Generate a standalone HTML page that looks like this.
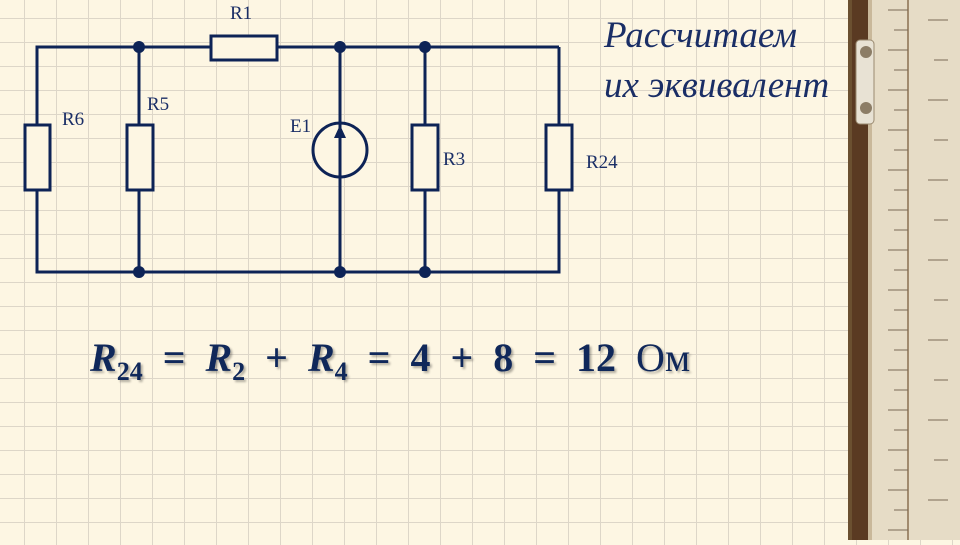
<!DOCTYPE html>
<html><head><meta charset="utf-8"><style>
html,body{margin:0;padding:0}
body{width:960px;height:540px;overflow:hidden;position:relative;
background-color:#fdf6e3;
background-image:linear-gradient(to right,#ddd6c8 1px,transparent 1px),linear-gradient(to bottom,#ddd6c8 1px,transparent 1px);
background-size:32px 24px;background-position:24px 18px;}
.ruler{position:absolute;left:848px;top:0;width:112px;height:540px;}
.f{position:absolute;left:90px;top:334px;font-family:"Liberation Serif",serif;font-size:40px;color:#10285a;font-weight:bold;white-space:nowrap;text-shadow:2px 2px 2px rgba(0,0,0,.3);word-spacing:10px}
.f i{font-style:italic}
.f sub{font-size:26px;vertical-align:-9px}
.t{position:absolute;left:604px;font-family:"Liberation Serif",serif;font-style:italic;font-size:37px;color:#1a2e66;white-space:nowrap}
</style></head><body>
<div class="ruler">
<svg width="112" height="540">
<rect x="0" y="0" width="112" height="540" fill="#ddd3bd"/>
<rect x="0" y="0" width="4" height="540" fill="#6b5030"/>
<rect x="4" y="0" width="16" height="540" fill="#5a3a22"/>
<rect x="20" y="0" width="4" height="540" fill="#c9b89a"/>
<rect x="24" y="0" width="88" height="540" fill="#e6dcc6"/>
<line x1="60" y1="0" x2="60" y2="540" stroke="#8a7050" stroke-width="1.5"/>
<rect x="8" y="40" width="18" height="84" rx="4" fill="#e8e2d4" stroke="#9a8a70"/>
<circle cx="18" cy="52" r="6" fill="#8c7d66"/><circle cx="18" cy="108" r="6" fill="#8c7d66"/>
<g stroke="#7a6a55" stroke-width="1">
<line x1="40" y1="10" x2="60" y2="10"/><line x1="46" y1="30" x2="60" y2="30"/><line x1="40" y1="50" x2="60" y2="50"/><line x1="46" y1="70" x2="60" y2="70"/>
<line x1="40" y1="90" x2="60" y2="90"/><line x1="46" y1="110" x2="60" y2="110"/><line x1="40" y1="130" x2="60" y2="130"/><line x1="46" y1="150" x2="60" y2="150"/>
<line x1="40" y1="170" x2="60" y2="170"/><line x1="46" y1="190" x2="60" y2="190"/><line x1="40" y1="210" x2="60" y2="210"/><line x1="46" y1="230" x2="60" y2="230"/>
<line x1="40" y1="250" x2="60" y2="250"/><line x1="46" y1="270" x2="60" y2="270"/><line x1="40" y1="290" x2="60" y2="290"/><line x1="46" y1="310" x2="60" y2="310"/>
<line x1="40" y1="330" x2="60" y2="330"/><line x1="46" y1="350" x2="60" y2="350"/><line x1="40" y1="370" x2="60" y2="370"/><line x1="46" y1="390" x2="60" y2="390"/>
<line x1="40" y1="410" x2="60" y2="410"/><line x1="46" y1="430" x2="60" y2="430"/><line x1="40" y1="450" x2="60" y2="450"/><line x1="46" y1="470" x2="60" y2="470"/>
<line x1="40" y1="490" x2="60" y2="490"/><line x1="46" y1="510" x2="60" y2="510"/><line x1="40" y1="530" x2="60" y2="530"/>
<line x1="80" y1="20" x2="100" y2="20"/><line x1="86" y1="60" x2="100" y2="60"/><line x1="80" y1="100" x2="100" y2="100"/><line x1="86" y1="140" x2="100" y2="140"/>
<line x1="80" y1="180" x2="100" y2="180"/><line x1="86" y1="220" x2="100" y2="220"/><line x1="80" y1="260" x2="100" y2="260"/><line x1="86" y1="300" x2="100" y2="300"/>
<line x1="80" y1="340" x2="100" y2="340"/><line x1="86" y1="380" x2="100" y2="380"/><line x1="80" y1="420" x2="100" y2="420"/><line x1="86" y1="460" x2="100" y2="460"/><line x1="80" y1="500" x2="100" y2="500"/>
</g>
</svg>
</div>
<svg style="position:absolute;left:0;top:0" width="848" height="540">
<g stroke="#0d2356" stroke-width="3" fill="none">
<polyline points="37,125 37,47 211,47"/>
<line x1="277" y1="47" x2="559" y2="47"/>
<polyline points="559,47 559,125"/>
<polyline points="37,190 37,272 559,272 559,190"/>
<line x1="139" y1="47" x2="139" y2="125"/><line x1="139" y1="190" x2="139" y2="272"/>
<line x1="425" y1="47" x2="425" y2="125"/><line x1="425" y1="190" x2="425" y2="272"/>
<line x1="340" y1="47" x2="340" y2="272"/>
<rect x="211" y="36" width="66" height="24" fill="#fdf6e3"/>
<rect x="25" y="125" width="25" height="65" fill="#fdf6e3"/>
<rect x="127" y="125" width="26" height="65" fill="#fdf6e3"/>
<rect x="412" y="125" width="26" height="65" fill="#fdf6e3"/>
<rect x="546" y="125" width="26" height="65" fill="#fdf6e3"/>
<circle cx="340" cy="150" r="27" fill="#fdf6e3"/>
<line x1="340" y1="123" x2="340" y2="177"/>
</g>
<polygon points="340,125 334,138 346,138" fill="#0d2356"/>
<g fill="#0d2356">
<circle cx="139" cy="47" r="6"/><circle cx="340" cy="47" r="6"/><circle cx="425" cy="47" r="6"/>
<circle cx="139" cy="272" r="6"/><circle cx="340" cy="272" r="6"/><circle cx="425" cy="272" r="6"/>
</g>
<g font-family="Liberation Serif, serif" font-size="19" fill="#1a2e66">
<text x="230" y="19">R1</text><text x="62" y="125">R6</text><text x="147" y="110">R5</text>
<text x="290" y="132">E1</text><text x="443" y="165">R3</text><text x="586" y="168">R24</text>
</g>
</svg>
<div class="t" style="top:14px">Рассчитаем</div>
<div class="t" style="top:64px">их эквивалент</div>
<div class="f"><i>R</i><sub>24</sub> = <i>R</i><sub>2</sub> + <i>R</i><sub>4</sub> = 4 + 8 = 12 <span style="font-weight:normal">Ом</span></div>
</body></html>
